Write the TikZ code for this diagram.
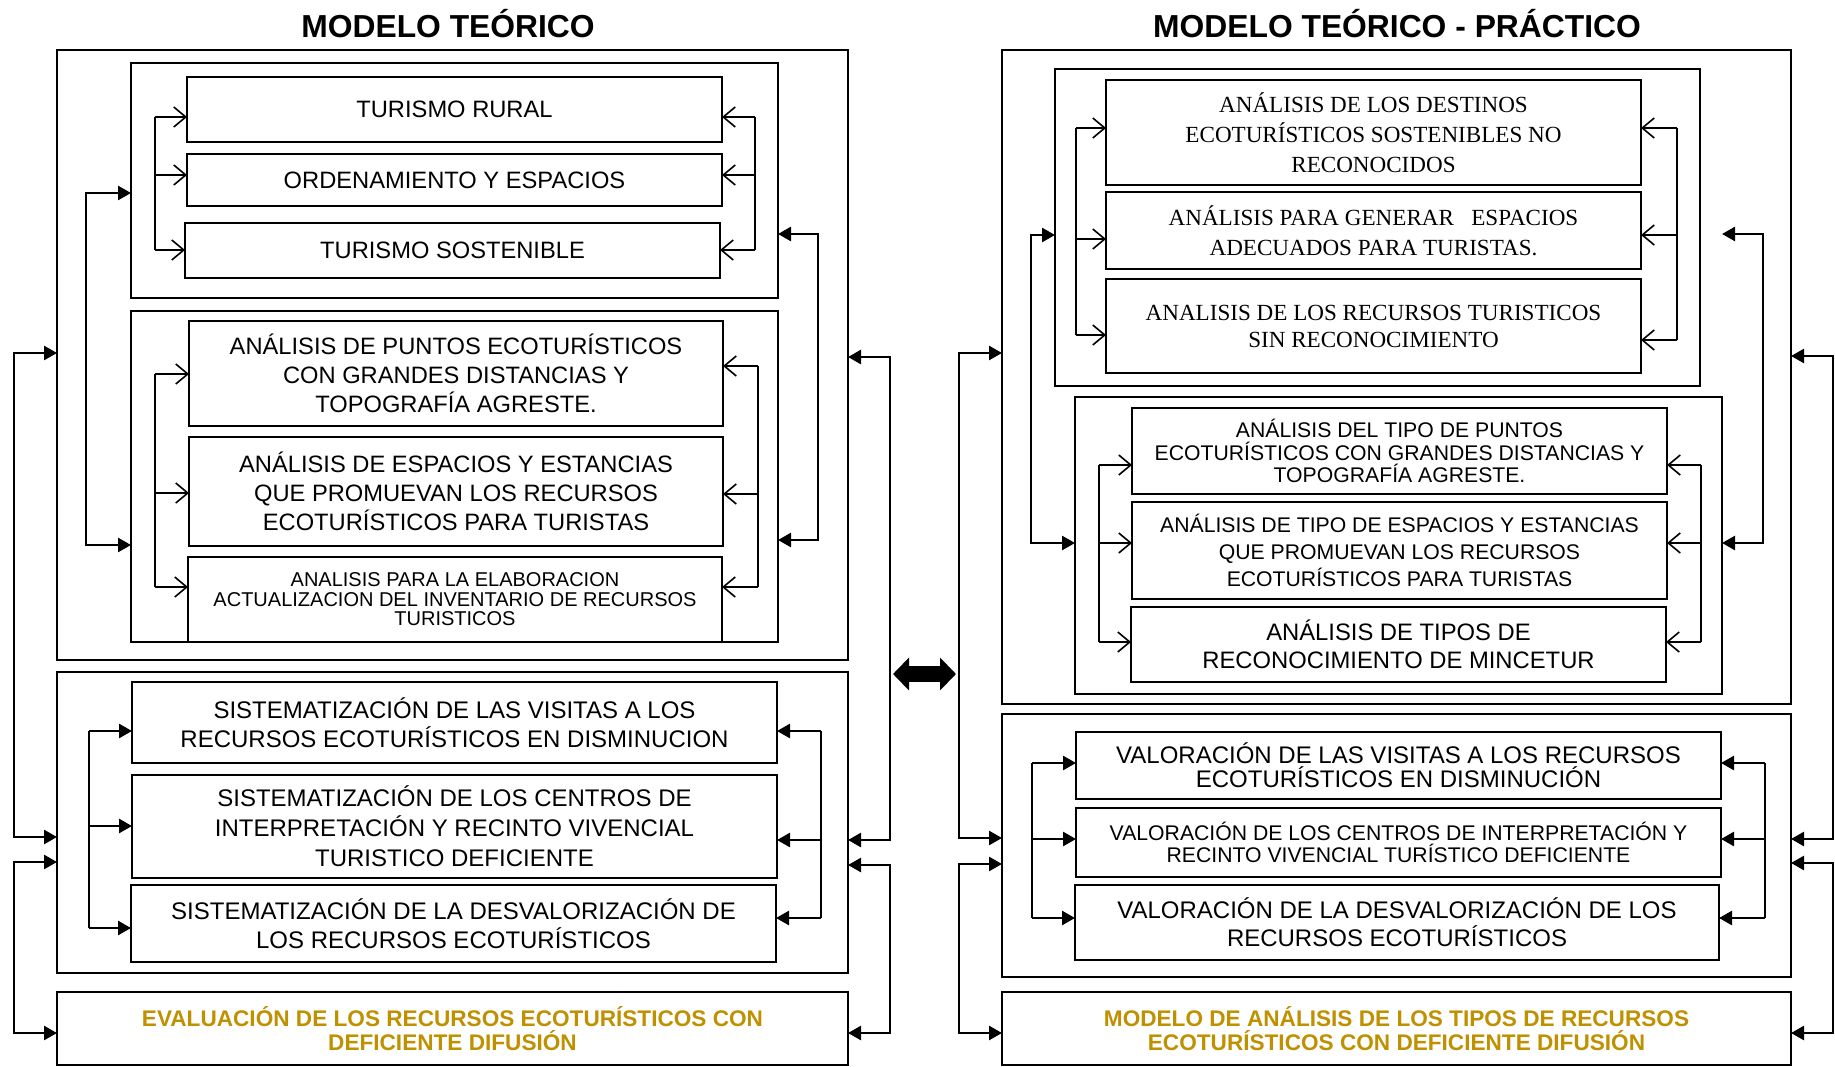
\documentclass[tikz,border=0pt]{standalone}
\usepackage{fontspec}
\setmainfont{Liberation Sans}
\newfontfamily\timesf{Liberation Serif}
\usetikzlibrary{positioning,arrows.meta}
\definecolor{gold}{RGB}{191,144,0}
\tikzset{
  panel/.style={draw, line width=2.8pt, inner sep=0pt, outer sep=0pt},
  tbox/.style={draw, line width=1.6pt, inner sep=0pt, outer sep=0pt, align=center},
  oline/.style={line width=1.6pt},
  oarr/.style={line width=1.6pt, -{Straight Barb[length=12pt,width=20pt]}},
  farr/.style={line width=2.6pt, -{Triangle[length=13pt,width=14pt]}},
  farrs/.style={line width=2.6pt, {Triangle[length=13pt,width=14pt]}-{Triangle[length=13pt,width=14pt]}},
  title/.style={font=\fontsize{31.8}{36}\selectfont\bfseries, anchor=base},
  goldtxt/.style={text=gold, font=\fontsize{22.6}{24}\selectfont\bfseries}
}

\begin{document}
\begin{tikzpicture}[x=1pt, y=-1pt]
\useasboundingbox (0,0) rectangle (1835,1067);

% titles
\node[title] (t1) at (448,38) {MODELO TEÓRICO};
\node[title] (t2) at (1397,38) {MODELO TEÓRICO - PRÁCTICO};

% left panel
\node[panel, minimum width=791pt, minimum height=610pt] (L1) at (452.5,355) {};
\node[panel, minimum width=647pt, minimum height=235pt] (LA) at (454.5,180.5) {};
\node[tbox, minimum width=535pt, minimum height=65pt, font=\fontsize{23.7}{29}\selectfont] (a1) at (454.5,109.5) {TURISMO RURAL};
\node[tbox, minimum width=535pt, minimum height=52pt, font=\fontsize{23.7}{29}\selectfont] (a2) at (454.5,180) {ORDENAMIENTO Y ESPACIOS};
\node[tbox, minimum width=535pt, minimum height=55pt, font=\fontsize{23.7}{29}\selectfont] (a3) at (452.5,250.5) {TURISMO SOSTENIBLE};

\node[panel, minimum width=647pt, minimum height=331pt] (LB) at (454.5,476.5) {};
\node[tbox, minimum width=534pt, minimum height=105pt, font=\fontsize{23.7}{29}\selectfont] (b1) at (456,373.5) {ANÁLISIS DE PUNTOS ECOTURÍSTICOS\\CON GRANDES DISTANCIAS Y\\TOPOGRAFÍA AGRESTE.};
\node[tbox, minimum width=534pt, minimum height=109pt, font=\fontsize{23.7}{29}\selectfont] (b2) at (456,491.5) {ANÁLISIS DE ESPACIOS Y ESTANCIAS\\QUE PROMUEVAN LOS RECURSOS\\ECOTURÍSTICOS PARA TURISTAS};
\node[tbox, minimum width=534pt, minimum height=85pt, font=\fontsize{20}{19.5}\selectfont] (b3) at (455,599.5) {ANALISIS PARA LA ELABORACION\\ACTUALIZACION DEL INVENTARIO DE RECURSOS\\TURISTICOS};

\node[panel, minimum width=791pt, minimum height=301pt] (LC) at (452.5,822.5) {};
\node[tbox, minimum width=645pt, minimum height=81pt, font=\fontsize{24}{29.5}\selectfont] (c1) at (454.5,722.5) {SISTEMATIZACIÓN DE LAS VISITAS A LOS\\RECURSOS ECOTURÍSTICOS EN DISMINUCION};
\node[tbox, minimum width=645pt, minimum height=103pt, font=\fontsize{24}{30}\selectfont] (c2) at (454.5,826.5) {SISTEMATIZACIÓN DE LOS CENTROS DE\\INTERPRETACIÓN Y RECINTO VIVENCIAL\\TURISTICO DEFICIENTE};
\node[tbox, minimum width=645pt, minimum height=77pt, font=\fontsize{24}{29}\selectfont] (c3) at (453.5,923.5) {SISTEMATIZACIÓN DE LA DESVALORIZACIÓN DE\\LOS RECURSOS ECOTURÍSTICOS};

\node[panel, goldtxt, align=center, minimum width=791pt, minimum height=73pt] (LD) at (452.5,1028.5) {EVALUACIÓN DE LOS RECURSOS ECOTURÍSTICOS CON\\DEFICIENTE DIFUSIÓN};

% right panel
\node[panel, minimum width=789pt, minimum height=654pt] (R1) at (1396.5,377) {};
\node[panel, minimum width=645pt, minimum height=317pt] (RA) at (1377.5,227.5) {};
\node[tbox, minimum width=535pt, minimum height=105pt, font=\timesf\fontsize{23.1}{30}\selectfont] (ra1) at (1373.5,132.5) {ANÁLISIS DE LOS DESTINOS\\ECOTURÍSTICOS SOSTENIBLES NO\\RECONOCIDOS};
\node[tbox, minimum width=535pt, minimum height=77pt, font=\timesf\fontsize{23.1}{30}\selectfont] (ra2) at (1373.5,230.5) {ANÁLISIS PARA GENERAR \ \ ESPACIOS\\ADECUADOS PARA TURISTAS.};
\node[tbox, minimum width=535pt, minimum height=94pt, font=\timesf\fontsize{23.1}{27}\selectfont] (ra3) at (1373.5,326) {ANALISIS DE LOS RECURSOS TURISTICOS\\SIN RECONOCIMIENTO};

\node[panel, minimum width=647pt, minimum height=297pt] (RB) at (1398.5,545.5) {};
\node[tbox, minimum width=535pt, minimum height=86pt, font=\fontsize{21.2}{22.5}\selectfont] (rb1) at (1399.5,451) {ANÁLISIS DEL TIPO DE PUNTOS\\ECOTURÍSTICOS CON GRANDES DISTANCIAS Y\\TOPOGRAFÍA AGRESTE.};
\node[tbox, minimum width=535pt, minimum height=97pt, font=\fontsize{21.2}{27}\selectfont] (rb2) at (1399.5,550.5) {ANÁLISIS DE TIPO DE ESPACIOS Y ESTANCIAS\\QUE PROMUEVAN LOS RECURSOS\\ECOTURÍSTICOS PARA TURISTAS};
\node[tbox, minimum width=535pt, minimum height=75pt, font=\fontsize{23.8}{28}\selectfont] (rb3) at (1398.5,644.5) {ANÁLISIS DE TIPOS DE\\RECONOCIMIENTO DE MINCETUR};

\node[panel, minimum width=789pt, minimum height=263pt] (R2) at (1396.5,845.5) {};
\node[tbox, minimum width=645pt, minimum height=67pt, font=\fontsize{24}{24}\selectfont] (rc1) at (1398.5,765.5) {VALORACIÓN DE LAS VISITAS A LOS RECURSOS\\ECOTURÍSTICOS EN DISMINUCIÓN};
\node[tbox, minimum width=645pt, minimum height=69pt, font=\fontsize{21.2}{21.7}\selectfont] (rc2) at (1398.5,842.5) {VALORACIÓN DE LOS CENTROS DE INTERPRETACIÓN Y\\RECINTO VIVENCIAL TURÍSTICO DEFICIENTE};
\node[tbox, minimum width=644pt, minimum height=75pt, font=\fontsize{24}{28}\selectfont] (rc3) at (1397,922.5) {VALORACIÓN DE LA DESVALORIZACIÓN DE LOS\\RECURSOS ECOTURÍSTICOS};

\node[panel, goldtxt, align=center, minimum width=789pt, minimum height=73pt] (RD) at (1396.5,1028.5) {MODELO DE ANÁLISIS DE LOS TIPOS DE RECURSOS\\ECOTURÍSTICOS CON DEFICIENTE DIFUSIÓN};

% brackets, open tips
\foreach \n/\x/\y in {a1/155/117, a2/155/175, a3/155/250, b1/155/374, b2/155/493, b3/155/587,
                      ra1/1076/128, ra2/1076/239, ra3/1076/335, rb1/1099/465, rb2/1099/543, rb3/1099/642}{
  \coordinate (s\n) at (\x,\y);
  \draw[oarr] (s\n) -- (s\n -| \n.west);}
\foreach \n/\x/\y in {a1/755/117, a2/755/175, a3/755/250, b1/758/366, b2/758/494, b3/758/587,
                      ra1/1677/128, ra2/1677/235, ra3/1677/340, rb1/1701/465, rb2/1701/543, rb3/1701/642}{
  \coordinate (t\n) at (\x,\y);
  \draw[oarr] (t\n) -- (t\n -| \n.east);}
\foreach \g in {a,b,ra,rb}{
  \draw[oline] (s\g1) -- (s\g3);
  \draw[oline] (t\g1) -- (t\g3);}

% brackets, filled tips
\foreach \n/\x/\y in {c1/89/731, c2/89/826, c3/89/928, rc1/1032/763, rc2/1032/839, rc3/1032/918}{
  \coordinate (s\n) at (\x,\y);
  \draw[farr] (s\n) -- (s\n -| \n.west);}
\foreach \n/\x/\y in {c1/821/731, c2/821/840, c3/821/918, rc1/1765/763, rc2/1765/839, rc3/1765/918}{
  \coordinate (t\n) at (\x,\y);
  \draw[farr] (t\n) -- (t\n -| \n.east);}
\foreach \g in {c,rc}{
  \draw[line width=2pt] (s\g1) -- (s\g3);
  \draw[line width=2pt] (t\g1) -- (t\g3);}

% links between panels
\foreach \a/\b/\x/\ya/\yb [count=\i] in {LA.west/LB.west/86/193/545, LA.east/LB.east/818/234/540,
    L1.west/LC.west/14/353/837, LC.west/LD.west/14/862/1033,
    L1.east/LC.east/890/357/840, LC.east/LD.east/890/865/1033,
    RA.west/RB.west/1031/235/543, RB.east/RB.east/1763/234/543,
    R1.west/R2.west/959/353/838, R2.west/RD.west/959/864/1033,
    R1.east/R2.east/1833/356/839, R2.east/RD.east/1833/863/1033}{
  \coordinate (u\i) at (\x,\ya);
  \coordinate (v\i) at (\x,\yb);
  \draw[farrs] (u\i -| \a) -- (u\i) -- (v\i) -- (v\i -| \b);}

% double arrow between models
\coordinate (dl) at (893,674);
\coordinate (dr) at (956,674);
\draw[line width=16pt, {Triangle[length=16pt,width=32pt]}-{Triangle[length=16pt,width=32pt]}] (dl) -- (dr);
\end{tikzpicture}
\end{document}
